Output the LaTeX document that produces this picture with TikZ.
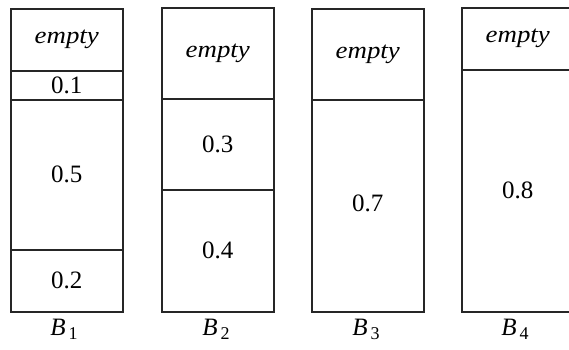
\documentclass[tikz,border=0pt]{standalone}
\usepackage{fontspec}
\setmainfont{Liberation Serif}
\begin{document}
\begin{tikzpicture}[x=1pt,y=-1pt,
  cell/.style={draw=black!85,line width=1.5pt,minimum width=112pt,inner sep=0pt,anchor=north west,font=\fontsize{25}{28}\selectfont},
  emp/.style={cell,font=\fontsize{24}{28}\selectfont\itshape},
  lab/.style={font=\fontsize{25}{28}\selectfont}]
\useasboundingbox (0,0) rectangle (569,349);
\newcommand{\emptytxt}{\scalebox{1.12}[1]{empty}}
\newcommand{\binlab}[1]{\textit{B}\hspace{3pt}\raisebox{-4pt}{\fontsize{18}{20}\selectfont #1}}
% B1
\node[emp,minimum height=62pt] (a0) at (10,8) {\emptytxt};
\node[cell,minimum height=29pt] (a1) at (10,70) {0.1};
\node[cell,minimum height=150pt] (a2) at (10,99) {0.5};
\node[cell,minimum height=62pt] (a3) at (10,249) {0.2};
\node[lab] (l1) at (64,329) {\binlab{1}};
% B2
\node[emp,minimum height=91pt] (b0) at (161,7) {\emptytxt};
\node[cell,minimum height=91pt] (b1) at (161,98) {0.3};
\node[cell,minimum height=122pt] (b2) at (161,189) {0.4};
\node[lab] (l2) at (216,329) {\binlab{2}};
% B3
\node[emp,minimum height=91pt] (c0) at (311,8) {\emptytxt};
\node[cell,minimum height=212pt] (c1) at (311,99) {\raisebox{5pt}{0.7}};
\node[lab] (l3) at (366,329) {\binlab{3}};
% B4
\node[emp,minimum height=62pt] (d0) at (461,7) {\emptytxt};
\node[cell,minimum height=242pt] (d1) at (461,69) {\raisebox{2pt}{0.8}};
\node[lab] (l4) at (515,329) {\binlab{4}};
\end{tikzpicture}
\end{document}
